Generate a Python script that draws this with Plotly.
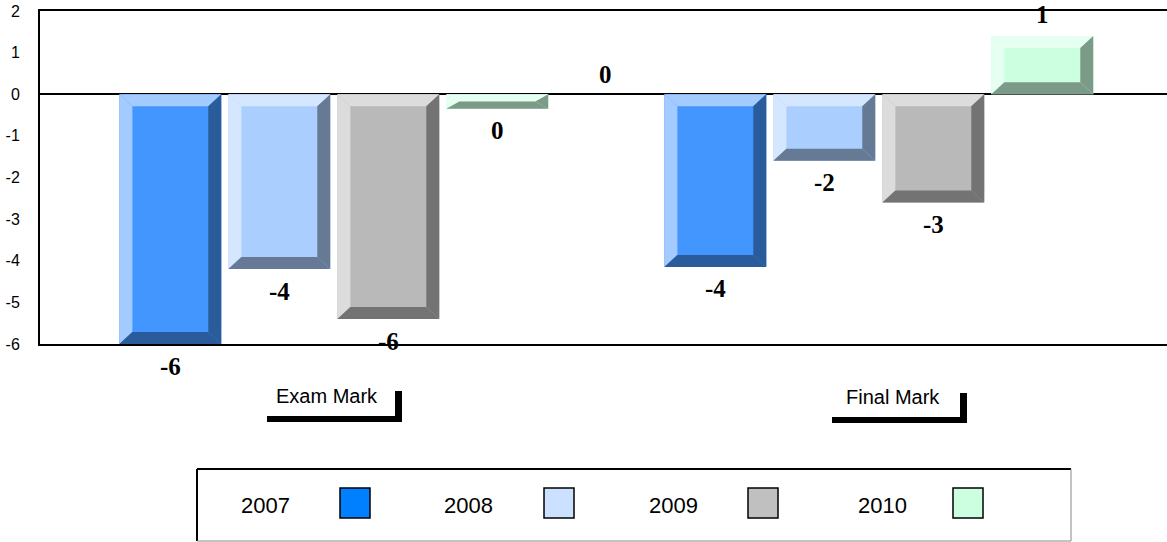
import plotly.graph_objects as go

# ---------------- data ----------------
categories = ["Exam Mark", "Final Mark"]
series = ["2007", "2008", "2009", "2010"]
values_2007 = [-6.0, -4.15]
values_2008 = [-4.2, -1.6]
values_2009 = [-5.4, -2.6]
values_2010 = [-0.35, 1.4]
labels_2007 = ["-6", "-4"]
labels_2008 = ["-4", "-2"]
labels_2009 = ["-6", "-3"]
labels_2010 = ["0", "1"]
mid_value = 0
mid_label = "0"
y_ticks = [2, 1, 0, -1, -2, -3, -4, -5, -6]

values = [values_2007, values_2008, values_2009, values_2010]
labels = [labels_2007, labels_2008, labels_2009, labels_2010]

# ---------------- styles ----------------
face = ["#4496ff", "#aacfff", "#b9b9b9", "#ccffe0"]
light = ["#a3cbff", "#d5e6ff", "#dcdcdc", "#e5fff0"]
dark = ["#2a5b9b", "#667995", "#737373", "#7b9a87"]
swatch = ["#0080ff", "#cce0ff", "#c0c0c0", "#ccffe0"]

W, H = 1167, 542
PLOT_LEFT, PLOT_TOP, PLOT_BOTTOM, PLOT_RIGHT = 40, 11, 344, 1167
ML = PLOT_LEFT
MT = PLOT_TOP
MB = H - PLOT_BOTTOM
MR = W - PLOT_RIGHT
PW = PLOT_RIGHT - PLOT_LEFT
PH = PLOT_BOTTOM - PLOT_TOP
PX_PER_X = 545.0
PX_PER_Y = PH / 8.0
x_lo = -(333 - PLOT_LEFT) / PX_PER_X
x_hi = x_lo + PW / PX_PER_X

offsets = [-0.392, -0.192, 0.008, 0.208]
bar_w = 0.187
bev_x = 13 / PX_PER_X
bev_y = 12 / PX_PER_Y


def px(x):
    return (x - PLOT_LEFT) / PW


def py(y):
    return (PLOT_BOTTOM - y) / PH


fig = go.Figure()
shapes = []
annotations = []
cat_pos = list(range(len(categories)))
label_font = dict(family="Liberation Serif", size=25, color="black", weight="bold")

for s, name in enumerate(series):
    fig.add_trace(go.Bar(
        x=cat_pos, y=values[s], name=name,
        width=bar_w, offset=offsets[s],
        marker=dict(color=face[s], line=dict(width=0)),
        showlegend=False, hoverinfo="x+y",
    ))
    for c in cat_pos:
        v = values[s][c]
        x0 = c + offsets[s]
        x1 = x0 + bar_w
        top = max(0, v)
        bot = min(0, v)
        by = min(bev_y, (top - bot) / 2)
        bx = bev_x
        paths = [
            (f"M{x0},{top} L{x1},{top} L{x1-bx},{top-by} L{x0+bx},{top-by} Z", light[s]),
            (f"M{x0},{top} L{x0+bx},{top-by} L{x0+bx},{bot+by} L{x0},{bot} Z", light[s]),
            (f"M{x1},{top} L{x1},{bot} L{x1-bx},{bot+by} L{x1-bx},{top-by} Z", dark[s]),
            (f"M{x0},{bot} L{x1},{bot} L{x1-bx},{bot+by} L{x0+bx},{bot+by} Z", dark[s]),
        ]
        for p, col in paths:
            shapes.append(dict(type="path", path=p, xref="x", yref="y",
                               fillcolor=col, line=dict(width=0), layer="above"))
        annotations.append(dict(
            x=(x0 + x1) / 2, y=v, xref="x", yref="y", showarrow=False,
            text=labels[s][c], yshift=-22 if v < 0 else 21, font=label_font,
        ))

# label between the groups
annotations.append(dict(
    x=0.5, y=mid_value, xref="x", yref="y", showarrow=False, text=mid_label,
    yshift=20, font=label_font,
))

# category labels with bracket decorations
cat_label_px = [(326.5, 396), (893, 397)]
brackets = [
    [(267, 416, 402, 422), (395, 391, 402, 422)],
    [(832, 417, 967, 423), (960, 393, 967, 423)],
]
for c, name in enumerate(categories):
    lx, ly = cat_label_px[c]
    annotations.append(dict(
        x=px(lx), y=py(ly), xref="paper", yref="paper", showarrow=False,
        text=name, font=dict(family="Arial", size=20, color="black"),
        xanchor="center", yanchor="middle",
    ))
    for (a, b, cc, d) in brackets[c]:
        shapes.append(dict(type="rect", xref="paper", yref="paper",
                           x0=px(a), x1=px(cc), y0=py(d), y1=py(b),
                           fillcolor="black", line=dict(width=0)))

# custom legend box
LB = (197, 469, 1071, 541)
shapes += [
    dict(type="line", xref="paper", yref="paper", x0=px(LB[0]), x1=px(LB[2]),
         y0=py(LB[1]), y1=py(LB[1]), line=dict(color="black", width=2)),
    dict(type="line", xref="paper", yref="paper", x0=px(LB[0]), x1=px(LB[0]),
         y0=py(LB[1]), y1=py(LB[3]), line=dict(color="black", width=2)),
    dict(type="line", xref="paper", yref="paper", x0=px(LB[2]), x1=px(LB[2]),
         y0=py(LB[1]), y1=py(LB[3]), line=dict(color="#888888", width=1)),
    dict(type="line", xref="paper", yref="paper", x0=px(LB[0]), x1=px(LB[2]),
         y0=py(LB[3]), y1=py(LB[3]), line=dict(color="#888888", width=1)),
]
text_cx = [265, 468, 673, 882]
sw_x = [340, 544, 748, 953]
for s, name in enumerate(series):
    annotations.append(dict(
        x=px(text_cx[s]), y=py(505), xref="paper", yref="paper", showarrow=False,
        text=name, font=dict(family="Arial", size=22, color="black"),
        xanchor="center", yanchor="middle",
    ))
    shapes.append(dict(type="rect", xref="paper", yref="paper",
                       x0=px(sw_x[s]), x1=px(sw_x[s] + 30), y0=py(518), y1=py(488),
                       fillcolor=swatch[s], line=dict(color="black", width=1.5)))

fig.update_layout(
    width=W, height=H,
    margin=dict(l=ML, r=MR, t=MT, b=MB, pad=0),
    paper_bgcolor="white", plot_bgcolor="white",
    barmode="overlay",
    shapes=shapes, annotations=annotations,
    showlegend=False,
    xaxis=dict(range=[x_lo, x_hi], showticklabels=False, showgrid=False,
               zeroline=False, showline=True, mirror=True,
               linecolor="black", linewidth=2, ticks=""),
    yaxis=dict(range=[-6, 2], tickvals=y_ticks, ticktext=[str(t) for t in y_ticks],
               showgrid=False, zeroline=True, zerolinecolor="black", zerolinewidth=2,
               showline=True, linecolor="black", linewidth=2, ticks="",
               ticklabelstandoff=15,
               tickfont=dict(family="Arial", size=16, color="black")),
)

fig.write_html(
    "out.html",
    config={"displayModeBar": False},
    post_script="document.body.style.margin='0';document.body.style.overflow='hidden';",
)
